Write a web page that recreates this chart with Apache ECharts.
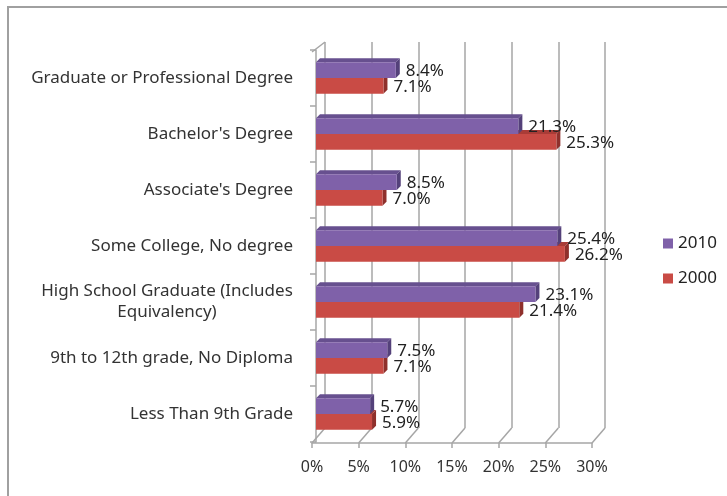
<!DOCTYPE html>
<html><head><meta charset="utf-8">
<script src="https://cdn.jsdelivr.net/npm/echarts@6/dist/echarts.min.js"></script>
<style>html,body{margin:0;padding:0;background:#fff}#c{width:727px;height:496px}</style>
</head><body><div id="c"></div>
<script>
const categories = ['Less Than 9th Grade', '9th to 12th grade, No Diploma', 'High School Graduate (Includes\nEquivalency)', 'Some College, No degree', "Associate's Degree", "Bachelor's Degree", 'Graduate or Professional Degree'];
const values2000 = [5.9, 7.1, 21.4, 26.2, 7.0, 25.3, 7.1];
const values2010 = [5.7, 7.5, 23.1, 25.4, 8.5, 21.3, 8.4];
const xTicks = [0, 5, 10, 15, 20, 25, 30];
const seriesNames = ['2000', '2010'];

const FONT = '"Noto Sans", "Open Sans", sans-serif';
const GRID_COLOR = '#a6a6a6';
const palette = [
  { front: '#c94b45', top: '#a93c37', side: '#8f302c' },
  { front: '#7f61a9', top: '#67508f', side: '#54417a' }
];

function barRenderer(which) {
  const colors = palette[which];
  return function (params, api) {
    const v = api.value(0);
    const ci = api.value(1);
    const base = api.coord([0, ci]);
    const end = api.coord([v, ci]);
    const band = api.size([0, 1])[1];
    const h = band * 0.28;
    const yc = base[1];
    const y0 = which === 0 ? yc : yc - h;
    const y1 = y0 + h;
    const x0 = base[0], x1 = end[0];
    const dx = 4, dy = 4;
    return {
      type: 'group',
      children: [
        { type: 'polygon', shape: { points: [[x0, y0], [x0 + dx, y0 - dy], [x1 + dx, y0 - dy], [x1, y0]] }, style: { fill: colors.top } },
        { type: 'polygon', shape: { points: [[x1, y0], [x1 + dx, y0 - dy], [x1 + dx, y1 - dy], [x1, y1]] }, style: { fill: colors.side } },
        { type: 'rect', shape: { x: x0, y: y0, width: x1 - x0, height: h }, style: { fill: colors.front } },
        { type: 'text', x: x1 + dx + 6, y: y0 + h / 2 + 1, style: { text: v.toFixed(1) + '%', fill: '#222', font: '17px ' + FONT, verticalAlign: 'middle', align: 'left' } }
      ]
    };
  };
}

function frameRenderer(params, api) {
  const v = api.value(0);
  const back = api.coord([v, 0]);
  const children = [
    { type: 'line', shape: { x1: back[0], y1: back[1], x2: back[0] - 13, y2: back[1] + 15 }, style: { stroke: GRID_COLOR, lineWidth: 1.5 } }
  ];
  if (v === 0) {
    const top = api.coord([0, 1]);
    children.push({ type: 'line', shape: { x1: top[0], y1: top[1], x2: top[0] - 13, y2: top[1] + 10 }, style: { stroke: GRID_COLOR, lineWidth: 1.5 } });
  }
  return { type: 'group', children };
}

const chart = echarts.init(document.getElementById('c'));
chart.setOption({
  animation: false,
  backgroundColor: '#fff',
  graphic: [
    { type: 'rect', shape: { x: 8, y: 7, width: 900, height: 900 }, style: { fill: 'none', stroke: '#a0a0a0', lineWidth: 2 }, silent: true }
  ],
  legend: {
    data: ['2010', '2000'],
    orient: 'vertical',
    left: 658,
    top: 230,
    icon: 'rect',
    itemWidth: 10,
    itemHeight: 10,
    itemGap: 18,
    textStyle: { fontFamily: FONT, fontSize: 17, color: '#222' }
  },
  grid: [
    { left: 316, right: 126, top: 50, bottom: 54 },
    { left: 325, right: 122, top: 42, bottom: 68 },
    { left: 312, right: 135, top: 42, bottom: 53 }
  ],
  xAxis: [
    { gridIndex: 0, type: 'value', min: 0, max: 30, show: false },
    { gridIndex: 1, type: 'value', min: 0, max: 30, interval: 5, axisLine: { show: false }, axisTick: { show: false }, axisLabel: { show: false },
      splitLine: { show: true, showMinLine: true, showMaxLine: true, lineStyle: { color: GRID_COLOR, width: 1.5 } } },
    { gridIndex: 2, type: 'value', min: 0, max: 30, interval: 5,
      axisLine: { show: true, lineStyle: { color: GRID_COLOR, width: 1.5 } },
      axisTick: { show: true, length: 5, lineStyle: { color: GRID_COLOR, width: 1.5 } },
      splitLine: { show: false },
      axisLabel: { formatter: '{value}%', fontFamily: FONT, fontSize: 16, color: '#333', margin: 16 } }
  ],
  yAxis: [
    { gridIndex: 0, type: 'category', data: categories, offset: 4,
      axisLine: { show: true, lineStyle: { color: GRID_COLOR, width: 1.5 } },
      axisTick: { show: true, length: 6, lineStyle: { color: GRID_COLOR, width: 1.5 } },
      axisLabel: {
        margin: 19, fontFamily: FONT, fontSize: 17, color: '#333',
        formatter: function (v) { return v.indexOf('\n') >= 0 ? v.split('\n').map(s => '{c|' + s + '}').join('\n') : v; },
        rich: { c: { width: 252, align: 'center', fontFamily: FONT, fontSize: 17, color: '#333', lineHeight: 21 } }
      } },
    { gridIndex: 1, type: 'value', min: 0, max: 1, show: false },
    { gridIndex: 2, type: 'value', min: 0, max: 1, show: false }
  ],
  series: [
    { name: 'frame', type: 'custom', xAxisIndex: 1, yAxisIndex: 1, renderItem: frameRenderer, data: xTicks.map(v => [v]), silent: true, z: 1 },
    { name: seriesNames[0], type: 'custom', xAxisIndex: 0, yAxisIndex: 0, renderItem: barRenderer(0), itemStyle: { color: palette[0].front },
      encode: { x: 0, y: 1 }, data: values2000.map((v, i) => [v, i]), z: 3 },
    { name: seriesNames[1], type: 'custom', xAxisIndex: 0, yAxisIndex: 0, renderItem: barRenderer(1), itemStyle: { color: palette[1].front },
      encode: { x: 0, y: 1 }, data: values2010.map((v, i) => [v, i]), z: 3 }
  ]
});
</script></body></html>
